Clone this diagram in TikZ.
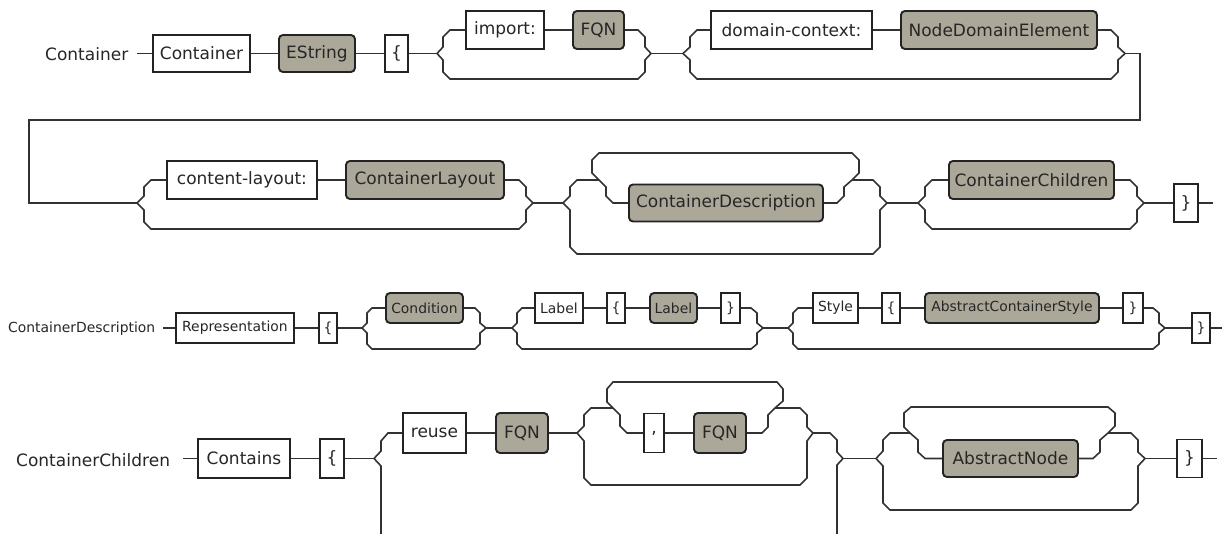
\documentclass[tikz,border=0pt]{standalone}
\usepackage{fontspec}
\setmainfont{DejaVu Sans}
\definecolor{linec}{RGB}{50,50,50}
\definecolor{boxc}{RGB}{35,35,35}
\definecolor{ntfill}{RGB}{172,168,153}
\begin{document}
\begin{tikzpicture}[x=1pt,y=-1pt,
  conn/.style={draw=linec, line width=1.6pt},
  lab/.style={anchor=west, inner sep=0pt, font=\fontsize{17}{20}\selectfont, text=black!85},
  labs/.style={lab, font=\fontsize{13.9}{16}\selectfont},
  tbox/.style={draw=boxc, line width=1.9pt, fill=white, inner sep=0pt, anchor=west,
     font=\fontsize{17}{20}\selectfont, text=black!85, minimum height=37pt},
  nbox/.style={tbox, fill=ntfill, rounded corners=4pt},
  tboxs/.style={tbox, font=\fontsize{13.9}{16}\selectfont, minimum height=30pt},
  nboxs/.style={tboxs, fill=ntfill, rounded corners=4pt}]
\useasboundingbox (0,0) rectangle (1226,534);

% ---------------- Row 1 ----------------
\node[lab] (l1) at (45,54) {Container};
\node[tbox, minimum width=97pt] (c1) at (152,53.5) {Container};
\node[nbox, minimum width=76pt] (e1) at (278,53.5) {EString};
\node[tbox, minimum width=23pt] (b1) at (384,53.5) {\{};
\node[tbox, minimum width=78pt, minimum height=38pt] (imp) at (465,30) {import:};
\node[nbox, minimum width=51pt, minimum height=38pt] (fq1) at (572,30) {FQN};
\node[tbox, minimum width=161pt, minimum height=38pt] (dc) at (710,30) {domain-context:};
\node[nbox, minimum width=196pt, minimum height=38pt] (nde) at (900,30) {NodeDomainElement};
\coordinate (s1) at (137,53.5);
\coordinate (j1) at (437,53.5);
\coordinate (j2) at (651,53.5);
\coordinate (j3) at (683,53.5);
\coordinate (j4) at (1125,53.5);

\draw[conn] (s1) -- (c1.west);
\draw[conn] (c1) -- (e1);
\draw[conn] (e1) -- (b1);
\draw[conn] (b1.east) -- (j1);
\draw[conn] (j1) -- (443,47) -- (443,37) -- (450,30) -- (imp.west);
\draw[conn] (imp) -- (fq1);
\draw[conn] (fq1.east) -- (638,30) -- (645,37) -- (645,47) -- (j2);
\draw[conn] (j1) -- (443,60) -- (443,72) -- (450,79) -- (638,79) -- (645,72) -- (645,60) -- (j2);
\draw[conn] (j2) -- (j3);
\draw[conn] (j3) -- (690,47) -- (690,37) -- (697,30) -- (dc.west);
\draw[conn] (dc) -- (nde);
\draw[conn] (nde.east) -- (1111,30) -- (1118,37) -- (1118,47) -- (j4);
\draw[conn] (j3) -- (690,60) -- (690,72) -- (697,79) -- (1111,79) -- (1118,72) -- (1118,60) -- (j4);

% ---------------- Row 2 ----------------
\node[tbox, minimum width=150pt, minimum height=38pt] (cl) at (166,180) {content-layout:};
\node[nbox, minimum width=158pt, minimum height=38pt] (clay) at (345,180) {ContainerLayout};
\node[nbox, minimum width=194pt] (cd) at (628,203) {ContainerDescription};
\node[nbox, minimum width=165pt, minimum height=38pt] (cc) at (948,180) {ContainerChildren};
\node[tbox, minimum width=24pt, minimum height=38pt] (rb2) at (1173,203) {\}};
\coordinate (j5) at (137,203);
\coordinate (j6) at (533,203);
\coordinate (j7) at (563,203);
\coordinate (k1) at (599,180);
\coordinate (k2) at (852,180);
\coordinate (j8) at (887,203);
\coordinate (j9) at (918,203);
\coordinate (j10) at (1144,203);
\coordinate (e2) at (1213,203);

\draw[conn] (j4) -- (1140,53.5) -- (1140,120) -- (29,120) -- (29,203) -- (j5);
\draw[conn] (j5) -- (144,196) -- (144,187) -- (151,180) -- (cl.west);
\draw[conn] (cl) -- (clay);
\draw[conn] (clay.east) -- (519,180) -- (526,187) -- (526,196) -- (j6);
\draw[conn] (j5) -- (144,210) -- (144,222) -- (151,229) -- (519,229) -- (526,222) -- (526,210) -- (j6);
\draw[conn] (j6) -- (j7);
\draw[conn] (j7) -- (570,196) -- (570,187) -- (577,180) -- (k1);
\draw[conn] (k1) -- (592,173) -- (592,160) -- (599,153) -- (852,153) -- (859,160) -- (859,173) -- (k2);
\draw[conn] (k1) -- (606,187) -- (606,196) -- (613,203) -- (cd.west);
\draw[conn] (cd.east) -- (837,203) -- (844,196) -- (844,187) -- (k2);
\draw[conn] (k2) -- (873,180) -- (880,187) -- (880,196) -- (j8);
\draw[conn] (j7) -- (570,210) -- (570,247) -- (577,254) -- (873,254) -- (880,247) -- (880,210) -- (j8);
\draw[conn] (j8) -- (j9);
\draw[conn] (j9) -- (925,196) -- (925,187) -- (932,180) -- (cc.west);
\draw[conn] (cc.east) -- (1130,180) -- (1137,187) -- (1137,196) -- (j10);
\draw[conn] (j9) -- (925,210) -- (925,222) -- (932,229) -- (1130,229) -- (1137,222) -- (1137,210) -- (j10);
\draw[conn] (j10) -- (rb2.west);
\draw[conn] (rb2.east) -- (e2);

% ---------------- Row 3 ----------------
\node[labs] (l3) at (8,329) {ContainerDescription};
\node[tboxs, minimum width=118pt] (rep) at (175,328) {Representation};
\node[tboxs, minimum width=18pt] (lb3) at (318,328) {\{};
\node[nboxs, minimum width=77pt] (cond) at (385,308) {Condition};
\node[tboxs, minimum width=48pt] (labk) at (534,308) {Label};
\node[tboxs, minimum width=18pt] (lb4) at (606,308) {\{};
\node[nboxs, minimum width=47pt] (labn) at (649,308) {Label};
\node[tboxs, minimum width=19pt] (rb4) at (720,308) {\}};
\node[tboxs, minimum width=45pt] (sty) at (812,308) {Style};
\node[tboxs, minimum width=18pt] (lb5) at (881,308) {\{};
\node[nboxs, minimum width=174pt] (acs) at (924,308) {AbstractContainerStyle};
\node[tboxs, minimum width=20pt] (rb5) at (1122,308) {\}};
\node[tboxs, minimum width=18pt] (rb3) at (1191,328) {\}};
\coordinate (s3) at (163,328);
\coordinate (p1) at (362,328);
\coordinate (p2) at (486,328);
\coordinate (p3) at (512,328);
\coordinate (p4) at (763,328);
\coordinate (p5) at (788,328);
\coordinate (p6) at (1165,328);
\coordinate (e3) at (1222,328);

\draw[conn] (s3) -- (rep.west);
\draw[conn] (rep) -- (lb3);
\draw[conn] (lb3.east) -- (p1);
\draw[conn] (p1) -- (367,323) -- (367,313) -- (372,308) -- (cond.west);
\draw[conn] (cond.east) -- (475,308) -- (480,313) -- (480,323) -- (p2);
\draw[conn] (p1) -- (367,333) -- (367,344) -- (372,349) -- (475,349) -- (480,344) -- (480,333) -- (p2);
\draw[conn] (p2) -- (p3);
\draw[conn] (p3) -- (517,323) -- (517,313) -- (522,308) -- (labk.west);
\draw[conn] (labk) -- (lb4);
\draw[conn] (lb4) -- (labn);
\draw[conn] (labn) -- (rb4);
\draw[conn] (rb4.east) -- (751,308) -- (757,313) -- (757,323) -- (p4);
\draw[conn] (p3) -- (517,333) -- (517,344) -- (522,349) -- (751,349) -- (757,344) -- (757,333) -- (p4);
\draw[conn] (p4) -- (p5);
\draw[conn] (p5) -- (793,323) -- (793,313) -- (798,308) -- (sty.west);
\draw[conn] (sty) -- (lb5);
\draw[conn] (lb5) -- (acs);
\draw[conn] (acs) -- (rb5);
\draw[conn] (rb5.east) -- (1153,308) -- (1159,313) -- (1159,323) -- (p6);
\draw[conn] (p5) -- (793,333) -- (793,344) -- (798,349) -- (1153,349) -- (1159,344) -- (1159,333) -- (p6);
\draw[conn] (p6) -- (rb3.west);
\draw[conn] (rb3.east) -- (e3);

% ---------------- Row 4 ----------------
\node[lab] (l4) at (16,460) {ContainerChildren};
\node[tbox, minimum width=92pt, minimum height=39pt] (cont) at (197,458.5) {Contains};
\node[tbox, minimum width=24pt, minimum height=39pt] (lb6) at (319,458.5) {\{};
\node[tbox, minimum width=63pt, minimum height=40pt] (reuse) at (402,433) {reuse};
\node[nbox, minimum width=52pt, minimum height=40pt] (fq2) at (495,433) {FQN};
\node[tbox, minimum width=20pt, minimum height=39pt] (comma) at (643,433) {,};
\node[nbox, minimum width=52pt, minimum height=40pt] (fq3) at (693,433) {FQN};
\node[nbox, minimum width=135pt] (an) at (942,458.5) {AbstractNode};
\node[tbox, minimum width=25pt, minimum height=38pt] (rb6) at (1176,458.5) {\}};
\coordinate (s4) at (183,458.5);
\coordinate (q1) at (374,458.5);
\coordinate (q2) at (577,433);
\coordinate (L1) at (613,408);
\coordinate (L2) at (775,408);
\coordinate (q3) at (813,433);
\coordinate (q4) at (843,458.5);
\coordinate (q5) at (876,458.5);
\coordinate (M1) at (910,433);
\coordinate (M2) at (1108,433);
\coordinate (q6) at (1145,458.5);
\coordinate (e4) at (1217,458.5);
\coordinate (bA) at (381,534);
\coordinate (bB) at (837,534);

\draw[conn] (s4) -- (cont.west);
\draw[conn] (cont) -- (lb6);
\draw[conn] (lb6.east) -- (q1);
\draw[conn] (q1) -- (381,451) -- (381,441) -- (388,433) -- (reuse.west);
\draw[conn] (q1) -- (381,466) -- (bA);
\draw[conn] (reuse) -- (fq2);
\draw[conn] (fq2.east) -- (q2);
\draw[conn] (q2) -- (584,426) -- (584,415) -- (591,408) -- (L1);
\draw[conn] (L1) -- (607,402) -- (607,389) -- (613,382) -- (777,382) -- (783,389) -- (783,401) -- (L2);
\draw[conn] (L1) -- (620,415) -- (620,426) -- (627,433) -- (comma.west);
\draw[conn] (comma) -- (fq3);
\draw[conn] (fq3.east) -- (762,433) -- (768,427) -- (768,415) -- (L2);
\draw[conn] (L2) -- (800,408) -- (807,415) -- (807,427) -- (q3);
\draw[conn] (q2) -- (584,441) -- (584,478) -- (591,485) -- (800,485) -- (807,478) -- (807,441) -- (q3);
\draw[conn] (q3) -- (830,433) -- (837,440) -- (837,452) -- (q4);
\draw[conn] (bB) -- (837,465) -- (q4);
\draw[conn] (q4) -- (q5);
\draw[conn] (q5) -- (883,451) -- (883,440) -- (890,433) -- (M1);
\draw[conn] (M1) -- (904,427) -- (904,413) -- (911,407) -- (1108,407) -- (1115,413) -- (1115,426) -- (M2);
\draw[conn] (M1) -- (918,440) -- (918,452) -- (925,458.5) -- (an.west);
\draw[conn] (an.east) -- (1093,458.5) -- (1100,452) -- (1100,440) -- (M2);
\draw[conn] (M2) -- (1131,433) -- (1138,440) -- (1138,452) -- (q6);
\draw[conn] (q5) -- (883,466) -- (883,503) -- (890,510) -- (1131,510) -- (1138,503) -- (1138,466) -- (q6);
\draw[conn] (q6) -- (rb6.west);
\draw[conn] (rb6.east) -- (e4);
\end{tikzpicture}
\end{document}
